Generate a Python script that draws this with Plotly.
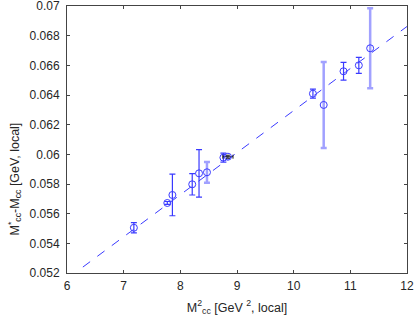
import plotly.graph_objects as go

# Dark-blue error-bar points
xa = [7.18, 7.77, 7.86, 8.21, 8.33, 8.76, 10.34, 10.88, 11.15]
ya = [0.05505, 0.05672, 0.05726, 0.05798, 0.05872, 0.05978, 0.06409, 0.06560, 0.06600]
ea = [0.00034, 0.00010, 0.00140, 0.00072, 0.00160, 0.00030, 0.00030, 0.00060, 0.00054]

# Light-blue error-bar points
xb = [8.47, 10.53, 11.35]
yb = [0.05879, 0.06333, 0.06715]
eb = [0.00070, 0.00290, 0.00270]

# Point with horizontal (black) error bar
xc = [8.84]
yc = [0.05984]
exc = [0.09]

# Fit line
fit_x = [6.28, 12.0]
fit_y = [0.05240, 0.06862]

x_ticks = [6, 7, 8, 9, 10, 11, 12]
y_ticks = [0.052, 0.054, 0.056, 0.058, 0.06, 0.062, 0.064, 0.066, 0.068, 0.07]

FONT = "Liberation Sans, Arial, sans-serif"
blue = "#3a3aff"
fig = go.Figure()
fig.add_trace(go.Scatter(x=fit_x, y=fit_y, mode="lines",
                         line=dict(color=blue, width=1, dash="dash"), showlegend=False))
fig.add_trace(go.Scatter(x=xa, y=ya, mode="markers",
                         marker=dict(symbol="circle-open", size=7, color=blue, line=dict(width=1)),
                         error_y=dict(type="data", array=ea, color=blue, thickness=1.2, width=3),
                         showlegend=False))
fig.add_trace(go.Scatter(x=xb, y=yb, mode="markers",
                         marker=dict(symbol="circle-open", size=7, color=blue, line=dict(width=1)),
                         error_y=dict(type="data", array=eb, color="rgba(110,110,255,0.65)", thickness=2.5, width=3),
                         showlegend=False))
fig.add_trace(go.Scatter(x=xc, y=yc, mode="markers",
                         marker=dict(symbol="circle-open", size=7, color=blue, line=dict(width=1)),
                         error_x=dict(type="data", array=exc, color="#222222", thickness=1, width=2),
                         error_y=dict(type="data", array=[0.0001], color="#222222", thickness=1, width=2),
                         showlegend=False))

axis_common = dict(showgrid=False, zeroline=False, showline=True, linecolor="#444444", linewidth=1,
                   mirror="ticks", ticks="inside", ticklen=3, tickcolor="#444444",
                   automargin=False, ticklabeloverflow="allow",
                   tickfont=dict(family=FONT, size=12, color="#262626"))
fig.update_xaxes(range=[6, 12], tickvals=x_ticks, ticktext=[str(v) for v in x_ticks],
                 ticklabelstandoff=2,
                 title=dict(text="M<sup>2</sup><sub>cc</sub> [GeV <sup>2</sup>, local]", standoff=10,
                            font=dict(family=FONT, size=12.5, color="#262626")),
                 **axis_common)
fig.update_yaxes(range=[0.052, 0.07], tickvals=y_ticks, ticktext=[f"{v:g}" for v in y_ticks],
                 ticklabelstandoff=4, **axis_common)
fig.add_annotation(text="M<sup>*</sup><sub>cc</sub>-M<sub>cc</sub> [GeV, local]",
                   xref="paper", yref="paper", x=0, y=0.5, xanchor="center", yanchor="middle",
                   xshift=-53, yshift=-40, textangle=-90, showarrow=False,
                   font=dict(family=FONT, size=12.5, color="#262626"))
fig.update_layout(width=415, height=319, margin=dict(l=67, r=8, t=6, b=46),
                  plot_bgcolor="white", paper_bgcolor="white")
fig.write_html("out.html", config={"displayModeBar": False},
               post_script="document.body.style.margin='0';document.body.style.padding='0';")
